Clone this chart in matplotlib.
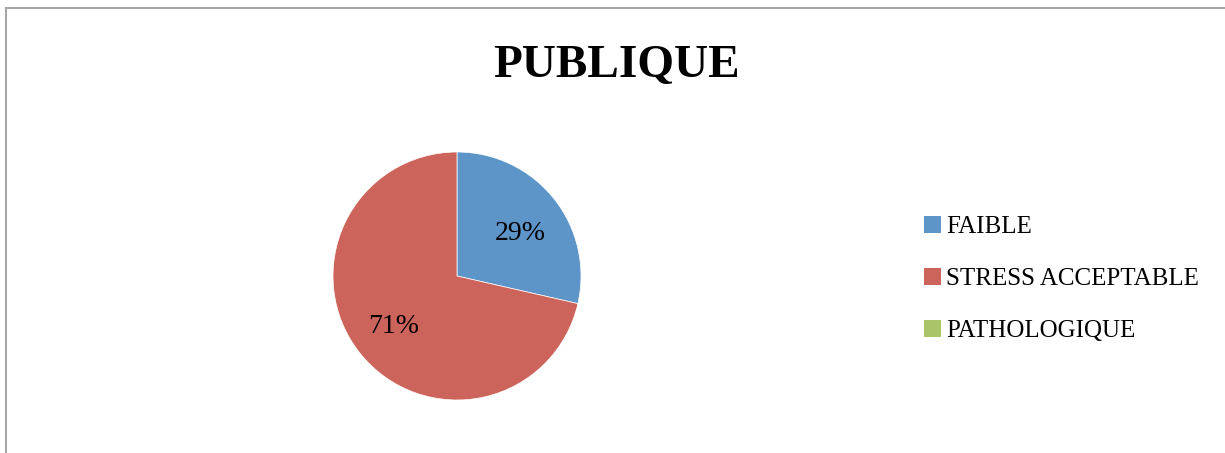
import numpy as np
import matplotlib.pyplot as plt
from matplotlib.lines import Line2D
from matplotlib.patches import Patch

categories = ['FAIBLE', 'STRESS ACCEPTABLE', 'PATHOLOGIQUE']
counts = [2, 5, 0]
colors = ['#5E95C9', '#CD645B', '#AAC46A']

plt.rcParams['font.family'] = ['Liberation Serif', 'DejaVu Serif']

W, H = 1225, 453
fig = plt.figure(figsize=(W / 100, H / 100), dpi=100)

# pie area: centre (457, 276), radius 124 px
cx, cy, r = 457, 276, 124
ax = fig.add_axes([(cx - r) / W, (H - cy - r) / H, 2 * r / W, 2 * r / H])

shown = [c for c in counts if c > 0]
wedges, _, autotexts = ax.pie(
    shown, colors=colors[:len(shown)], startangle=90, counterclock=False,
    autopct=lambda p: '{:.0f}%'.format(p), pctdistance=0.65,
    radius=1, wedgeprops=dict(edgecolor='white', linewidth=0.5),
    textprops=dict(fontsize=20, color='black'))
# nudge the first label a bit lower inside its slice
a = np.deg2rad(34)
autotexts[0].set_position((0.62 * np.cos(a), 0.62 * np.sin(a)))
ax.set_xlim(-1, 1)
ax.set_ylim(-1, 1)
ax.set_aspect('equal')
ax.axis('off')

fig.text(617 / W, 1 - 66 / H, 'PUBLIQUE', ha='center', va='center',
         fontsize=34, fontweight='bold')

handles = [Patch(facecolor=c, edgecolor='none') for c in colors]
fig.legend(handles, categories, loc='center left',
           bbox_to_anchor=(902 / W, 1 - 279 / H), frameon=False,
           fontsize=18, handlelength=0.65, handleheight=0.65,
           handletextpad=0.2, labelspacing=1.2)

# chart frame (only top and left edges fall inside the image)
fig.add_artist(Line2D([6 / W, 6 / W], [0, 1 - 7.5 / H], color='#a6a6a6',
                      linewidth=1.5, transform=fig.transFigure))
fig.add_artist(Line2D([6 / W, 1], [1 - 7.5 / H, 1 - 7.5 / H], color='#a6a6a6',
                      linewidth=1.5, transform=fig.transFigure))

fig.savefig('out.png', dpi=100)
